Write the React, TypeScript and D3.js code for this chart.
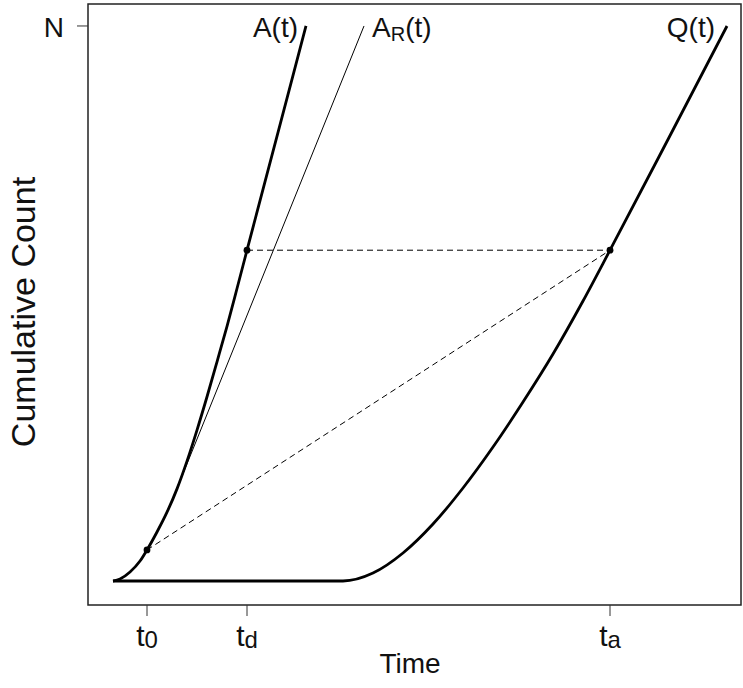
import React, { useEffect, useRef } from "react";
import * as d3 from "d3";

// arrival curve A(t)
const aTime = [0, 0.14, 0.34, 0.54, 0.68, 0.88, 1.08, 1.28, 1.48, 1.68, 1.88, 2.08, 2.28, 2.48, 2.68, 3.27, 3.86];
const aCount = [0, 0.0036, 0.0162, 0.036, 0.056, 0.0883, 0.124, 0.166, 0.216, 0.272, 0.332, 0.395, 0.459, 0.527, 0.596, 0.798, 1.0];
// reference arrivals A_R(t)
const arTime = [1.3, 5.02];
const arCount = [0.171, 1.0];
// departures Q(t)
const qTime = [0, 4.6, 5.2, 5.8, 6.4, 7.0, 7.6, 8.2, 8.8, 9.4, 9.94, 11.11, 12.28];
const qCount = [0, 0, 0.0144, 0.0505, 0.1027, 0.1676, 0.2414, 0.3225, 0.409, 0.5045, 0.596, 0.7973, 1.0];
// ticks
const tickTimes = [0.68, 2.68, 9.94];
const tickSubs = ["0", "d", "a"];
const nCount = 1;
// marked points
const markTime = [0.68, 2.68, 9.94];
const markCount = [0.056, 0.596, 0.596];

const font = "'Liberation Sans', Arial, sans-serif";

function App() {
  const svgRef = useRef<SVGSVGElement>(null);

  useEffect(() => {
    document.body.style.margin = "0";
    if (!svgRef.current) return;
    const width = 743;
    const height = 688;
    const svg = d3.select(svgRef.current);
    svg.selectAll("*").remove();
    svg.attr("width", width).attr("height", height);

    const x = d3.scaleLinear().domain([-0.5, 12.56]).range([88, 741]);
    const y = d3.scaleLinear().domain([-0.0432, 1.0396]).range([605, 4]);

    svg.append("rect")
      .attr("x", 88).attr("y", 4)
      .attr("width", 741 - 88).attr("height", 605 - 4)
      .attr("fill", "none").attr("stroke", "#222").attr("stroke-width", 1.5);

    const line = d3.line<[number, number]>()
      .x(d => x(d[0])).y(d => y(d[1]))
      .curve(d3.curveMonotoneX);

    const aPts = aTime.map((t, i) => [t, aCount[i]] as [number, number]);
    const qPts = qTime.map((t, i) => [t, qCount[i]] as [number, number]);
    const arPts = arTime.map((t, i) => [t, arCount[i]] as [number, number]);

    // dashed helper lines
    svg.append("line")
      .attr("x1", x(markTime[1])).attr("y1", y(markCount[1]))
      .attr("x2", x(markTime[2])).attr("y2", y(markCount[2]))
      .attr("stroke", "#000").attr("stroke-width", 1).attr("stroke-dasharray", "6,4");
    svg.append("line")
      .attr("x1", x(markTime[0])).attr("y1", y(markCount[0]))
      .attr("x2", x(markTime[2])).attr("y2", y(markCount[2]))
      .attr("stroke", "#000").attr("stroke-width", 1).attr("stroke-dasharray", "6,4");

    svg.append("path").attr("d", line(arPts))
      .attr("fill", "none").attr("stroke", "#000").attr("stroke-width", 1);
    svg.append("path").attr("d", line(aPts))
      .attr("fill", "none").attr("stroke", "#000").attr("stroke-width", 2.8);
    svg.append("path").attr("d", line(qPts))
      .attr("fill", "none").attr("stroke", "#000").attr("stroke-width", 2.8);

    markTime.forEach((t, i) => {
      svg.append("circle").attr("cx", x(t)).attr("cy", y(markCount[i]))
        .attr("r", 3.4).attr("fill", "#000");
    });

    // x ticks
    tickTimes.forEach((t, i) => {
      svg.append("line").attr("x1", x(t)).attr("x2", x(t))
        .attr("y1", 605).attr("y2", 616).attr("stroke", "#333").attr("stroke-width", 1);
      const txt = svg.append("text").attr("x", x(t)).attr("y", 646)
        .attr("text-anchor", "middle").attr("font-family", font).attr("font-size", 30)
        .attr("fill", "#111");
      txt.append("tspan").text("t");
      txt.append("tspan").attr("font-size", 24).attr("dy", 2).text(tickSubs[i]);
    });

    // y tick N
    svg.append("line").attr("x1", 77).attr("x2", 88)
      .attr("y1", y(nCount)).attr("y2", y(nCount)).attr("stroke", "#333");
    svg.append("text").attr("x", 64).attr("y", y(nCount) + 11)
      .attr("text-anchor", "end").attr("font-family", font).attr("font-size", 28)
      .attr("fill", "#111").text("N");

    // curve labels
    svg.append("text").attr("x", 298).attr("y", 37)
      .attr("text-anchor", "end").attr("font-family", font).attr("font-size", 28)
      .attr("fill", "#111").text("A(t)");
    const ar = svg.append("text").attr("x", 372).attr("y", 37)
      .attr("font-family", font).attr("font-size", 28).attr("fill", "#111");
    ar.append("tspan").text("A");
    ar.append("tspan").attr("font-size", 20).attr("dy", 4).text("R");
    ar.append("tspan").attr("dy", -4).text("(t)");
    svg.append("text").attr("x", 715).attr("y", 37)
      .attr("text-anchor", "end").attr("font-family", font).attr("font-size", 28)
      .attr("fill", "#111").text("Q(t)");

    // axis titles
    svg.append("text").attr("x", 410).attr("y", 673)
      .attr("text-anchor", "middle").attr("font-family", font).attr("font-size", 28)
      .attr("fill", "#111").text("Time");
    svg.append("text")
      .attr("transform", "translate(35,312) rotate(-90)")
      .attr("text-anchor", "middle").attr("font-family", font).attr("font-size", 34)
      .attr("fill", "#111").text("Cumulative Count");
  }, []);

  return <svg ref={svgRef}></svg>;
}

export default App;
